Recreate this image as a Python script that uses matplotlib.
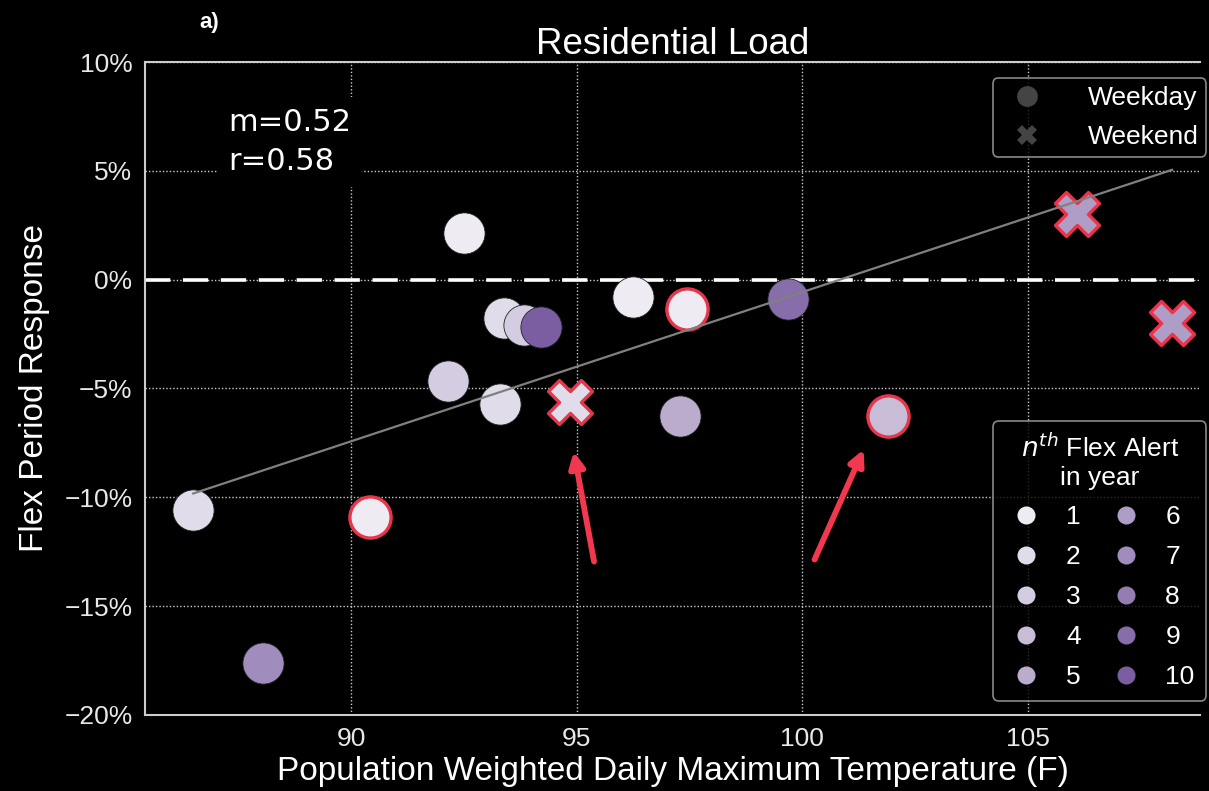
import matplotlib
matplotlib.use("Agg")
import matplotlib.pyplot as plt
from matplotlib.lines import Line2D
from matplotlib.ticker import PercentFormatter
import matplotlib.colors as mcolors
import numpy as np

# ---- data ----
temp_f = [86.49, 90.42, 88.04, 92.49, 92.13, 93.29, 93.38, 93.82, 94.20,
          94.84, 96.24, 97.44, 97.29, 99.69, 101.91, 106.09, 108.20]
response = [-0.106, -0.109, -0.176, 0.0216, -0.0464, -0.057, -0.0175, -0.021,
            -0.0216, -0.056, -0.0078, -0.0133, -0.0625, -0.0087, -0.0625,
            0.0303, -0.0198]
nth_alert = [2, 1, 7, 1, 3, 2, 2, 3, 10, 2, 1, 1, 5, 9, 4, 6, 6]
weekend = [False, False, False, False, False, False, False, False, False,
           True, False, False, False, False, False, True, True]
highlight = [False, True, False, False, False, False, False, False, False,
             True, False, True, False, False, True, True, True]
fit_slope = 0.00685        # per degree F (drawn line)
fit_intercept = -0.6907
fit_text = "m=0.52\nr=0.58"
arrow_tail_x = [95.38, 100.27]
arrow_tail_y = [-0.1295, -0.1286]
arrow_head_x = [94.93, 101.36]
arrow_head_y = [-0.079, -0.078]
alert_levels = list(range(1, 11))
xticks = [90, 95, 100, 105]
yticks = [-0.20, -0.15, -0.10, -0.05, 0.0, 0.05, 0.10]

# ---- styling ----
plt.rcParams['font.family'] = ['Liberation Sans', 'DejaVu Sans']
c_lo = np.array(mcolors.to_rgb("#EEECF2"))
c_hi = np.array(mcolors.to_rgb("#7B5DA2"))
palette = {n: tuple(c_lo + (c_hi - c_lo) * (n - 1) / 9) for n in alert_levels}
red = "#E8354B"
arrow_red = "#F2384E"

fig = plt.figure(figsize=(12.09, 7.91), dpi=100, facecolor="black")
ax = fig.add_axes([0.1199, 0.0961, 0.8727, 0.8255], facecolor="black")

ax.set_xlim(85.42, 108.82)
ax.set_ylim(-0.20, 0.10)

# grid
ax.set_xticks(xticks)
ax.set_yticks(yticks)
ax.grid(True, color="#cccccc", linestyle=(0, (1, 1.5)), linewidth=1.0)
ax.set_axisbelow(True)
ax.yaxis.set_major_formatter(PercentFormatter(1.0, decimals=0))
ax.tick_params(colors="white", labelsize=19, length=0, pad=9)
for lab in ax.get_xticklabels() + ax.get_yticklabels():
    lab.set_color("#e8e8e8")
for s in ["left", "bottom", "top"]:
    ax.spines[s].set_color("#cccccc")
    ax.spines[s].set_linewidth(1.5)
ax.spines["right"].set_visible(False)

# zero line
ax.axhline(0, color="white", linestyle=(0, (7, 3.5)), linewidth=2.6, zorder=2)

# regression line
xfit = np.array([min(temp_f), max(temp_f)])
ax.plot(xfit, fit_slope * xfit + fit_intercept, color="#808080", lw=1.6, zorder=5)

# points
for x, y, n, wk, hl in zip(temp_f, response, nth_alert, weekend, highlight):
    marker = "X" if wk else "o"
    size = 1000 if wk else 880
    ec = red if hl else "#222222"
    lw = 2.4 if hl else 0.6
    ax.scatter([x], [y], s=size, marker=marker, color=palette[n],
               edgecolors=ec, linewidths=lw, zorder=4 if not hl else 3)

# red arrows
for tx, ty, hx, hy in zip(arrow_tail_x, arrow_tail_y, arrow_head_x, arrow_head_y):
    ax.annotate("", xy=(hx, hy), xytext=(tx, ty),
                arrowprops=dict(arrowstyle="-|>,head_length=0.9,head_width=0.45",
                                color=arrow_red, lw=4.2, shrinkA=0, shrinkB=0),
                zorder=6)

ax.text(0.079, 0.93, fit_text, transform=ax.transAxes, color="white",
        fontsize=22, family="DejaVu Sans", va="top", ha="left",
        linespacing=1.45, bbox=dict(facecolor="black", edgecolor="none", pad=8))

ax.set_title("Residential Load", color="white", fontsize=26.5, pad=5)
ax.set_xlabel("Population Weighted Daily Maximum Temperature (F)", color="white",
              fontsize=24, labelpad=3)
ax.set_ylabel("Flex Period Response", color="white", fontsize=24, labelpad=10)
fig.text(0.165, 0.972, "a)", color="white", fontsize=16, fontweight="bold",
         ha="left", va="center")

# legend 1: day type
h1 = [Line2D([], [], marker="o", ls="none", color="#444444", markersize=15,
             markeredgewidth=0),
      Line2D([], [], marker="X", ls="none", color="#444444", markersize=15,
             markeredgewidth=0)]
leg1 = ax.legend(h1, ["Weekday", "Weekend"], loc="upper right",
                 bbox_to_anchor=(1.006, 0.975), fontsize=19, frameon=True,
                 facecolor="black", edgecolor="#aaaaaa", labelcolor="white",
                 handletextpad=1.3, borderpad=0.3, labelspacing=0.55,
                 borderaxespad=0.0, fancybox=True)
leg1.get_frame().set_linewidth(1.2)
ax.add_artist(leg1)

# legend 2: nth alert
h2 = [Line2D([], [], marker="o", ls="none", color=palette[n], markersize=13,
             markeredgewidth=0) for n in alert_levels]
leg2 = ax.legend(h2, [str(n) for n in alert_levels], ncol=2, loc="lower right",
                 bbox_to_anchor=(1.006, 0.022),
                 title="$n^{th}$ Flex Alert\nin year", fontsize=19,
                 title_fontsize=19, frameon=True, facecolor="black",
                 edgecolor="#aaaaaa", labelcolor="white", handletextpad=0.7,
                 columnspacing=0.9, borderpad=0.45, labelspacing=0.6,
                 handlelength=1.6, borderaxespad=0.0, fancybox=True)
leg2.get_title().set_color("white")
leg2.get_title().set_multialignment("center")
leg2.get_frame().set_linewidth(1.2)

fig.savefig("out.png", dpi=100, facecolor="black")
